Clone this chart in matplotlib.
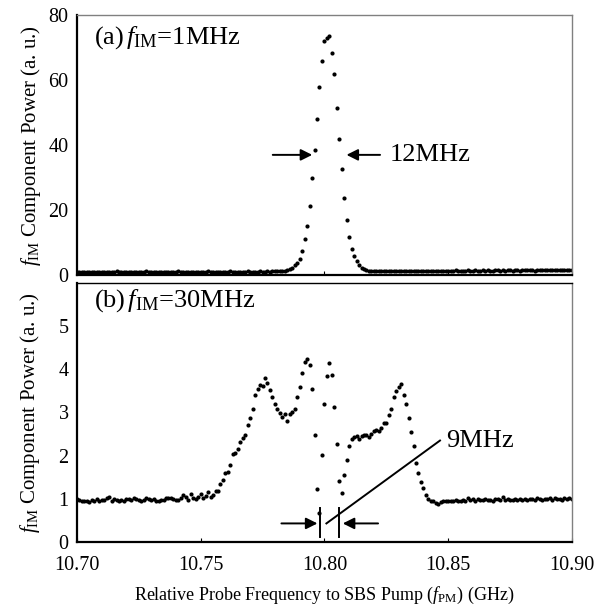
import numpy as np
import matplotlib
matplotlib.use('Agg')
import matplotlib.pyplot as plt

plt.rcParams['font.family'] = 'Liberation Serif'
plt.rcParams['mathtext.fontset'] = 'custom'
plt.rcParams['mathtext.rm'] = 'Liberation Serif'
plt.rcParams['mathtext.it'] = 'Liberation Serif:italic'

# probe frequency grid (GHz), 1 MHz steps
freq = np.round(10.700 + 0.001 * np.arange(201), 3)

# (a) f_IM = 1 MHz
power_1mhz = [
    1.0, 1.1, 0.9, 1.0, 1.1, 1.0, 0.9, 1.1, 1.0, 1.0,
    1.1, 0.9, 1.0, 1.1, 1.0, 1.0, 1.2, 1.0, 0.9, 1.0,
    1.1, 1.0, 1.0, 1.1, 0.9, 1.0, 1.1, 1.0, 1.2, 1.0,
    1.0, 1.1, 1.0, 0.9, 1.1, 1.0, 1.1, 1.0, 1.0, 1.1,
    1.0, 1.2, 1.0, 1.0, 1.1, 1.0, 1.1, 1.0, 1.1, 1.0,
    1.1, 1.0, 1.1, 1.2, 1.0, 1.1, 1.0, 1.1, 1.1, 1.0,
    1.1, 1.0, 1.2, 1.1, 1.0, 1.1, 1.1, 1.0, 1.1, 1.2,
    1.1, 1.0, 1.1, 1.1, 1.2, 1.1, 1.1, 1.2, 1.1, 1.2,
    1.2, 1.2, 1.3, 1.3, 1.4, 1.5, 1.8, 2.2, 3.0, 3.8,
    5.1, 7.4, 11.0, 15.1, 21.4, 29.8, 38.4, 48.1, 57.8, 65.8,
    72.0, 73.1, 73.6, 68.2, 61.8, 51.4, 41.9, 32.5, 23.7, 16.9,
    11.7, 7.9, 5.9, 4.4, 3.2, 2.3, 1.8, 1.5, 1.3, 1.2,
    1.2, 1.3, 1.2, 1.3, 1.2, 1.3, 1.2, 1.3, 1.3, 1.2,
    1.3, 1.2, 1.3, 1.3, 1.4, 1.3, 1.3, 1.2, 1.3, 1.4,
    1.3, 1.3, 1.4, 1.3, 1.4, 1.3, 1.3, 1.4, 1.3, 1.4,
    1.4, 1.3, 1.4, 1.5, 1.4, 1.3, 1.4, 1.4, 1.5, 1.4,
    1.4, 1.5, 1.4, 1.4, 1.5, 1.4, 1.5, 1.4, 1.4, 1.5,
    1.5, 1.4, 1.5, 1.4, 1.5, 1.5, 1.4, 1.5, 1.5, 1.4,
    1.5, 1.5, 1.6, 1.5, 1.5, 1.4, 1.5, 1.6, 1.5, 1.5,
    1.6, 1.5, 1.5, 1.6, 1.5, 1.6, 1.7, 1.5, 1.6, 1.7,
    1.6,
]

# (b) f_IM = 30 MHz
power_30mhz = [
    1.00, 0.97, 0.96, 0.96, 0.95, 0.93, 0.98, 0.96, 1.00, 0.96,
    0.97, 0.98, 1.02, 1.04, 0.96, 1.00, 0.98, 0.95, 0.98, 0.94,
    0.99, 1.00, 0.97, 1.01, 0.99, 0.97, 0.95, 0.97, 1.01, 1.00,
    0.97, 0.99, 0.96, 0.94, 0.98, 0.97, 1.03, 1.01, 1.02, 0.99,
    0.98, 0.98, 1.01, 1.08, 1.04, 0.98, 1.11, 1.02, 0.99, 1.04,
    1.11, 1.03, 1.06, 1.15, 1.05, 1.10, 1.18, 1.19, 1.34, 1.44,
    1.60, 1.61, 1.79, 2.04, 2.07, 2.15, 2.31, 2.41, 2.48, 2.71,
    2.87, 3.09, 3.41, 3.55, 3.63, 3.62, 3.80, 3.69, 3.53, 3.35,
    3.19, 3.09, 2.98, 2.90, 2.96, 2.81, 2.96, 3.02, 3.07, 3.36,
    3.58, 3.92, 4.17, 4.24, 4.11, 3.55, 2.48, 1.23, 0.66, 2.01,
    3.20, 3.84, 4.15, 3.87, 3.13, 2.28, 1.42, 1.13, 1.56, 1.91,
    2.23, 2.39, 2.43, 2.45, 2.39, 2.45, 2.47, 2.47, 2.44, 2.50,
    2.58, 2.60, 2.58, 2.65, 2.76, 2.76, 2.95, 3.08, 3.35, 3.50,
    3.58, 3.67, 3.41, 3.19, 2.88, 2.55, 2.23, 1.84, 1.60, 1.40,
    1.24, 1.09, 1.00, 0.96, 0.94, 0.91, 0.88, 0.93, 0.95, 0.94,
    0.95, 0.96, 0.94, 0.97, 0.95, 0.96, 0.98, 0.95, 1.01, 0.97,
    0.99, 0.96, 1.00, 0.98, 0.97, 1.00, 0.97, 0.98, 0.96, 0.99,
    1.00, 0.98, 1.04, 0.98, 0.99, 0.97, 0.98, 1.00, 0.97, 0.99,
    0.98, 1.00, 0.97, 0.99, 1.00, 0.98, 1.02, 0.99, 0.98, 1.00,
    0.99, 1.01, 0.98, 1.03, 0.99, 1.00, 0.97, 1.02, 0.99, 1.01,
    1.00,
]

x_ticks = [10.70, 10.75, 10.80, 10.85, 10.90]
x_ticklabels = ['10.70', '10.75', '10.80', '10.85', '10.90']

ylabel = r'$\mathit{f}_{\mathrm{IM}}$ Component Power (a. u.)'


def style_axes(ax, top_color):
    for side in ['left', 'bottom']:
        ax.spines[side].set_linewidth(1.6)
        ax.spines[side].set_color('black')
    ax.spines['top'].set_color(top_color)
    ax.spines['top'].set_linewidth(1.0)
    ax.spines['right'].set_color('#808080')
    ax.spines['right'].set_linewidth(1.0)
    ax.tick_params(axis='x', direction='in', length=3, width=0.8, labelsize=14.5, pad=10)
    ax.tick_params(axis='y', length=0, labelsize=14.5, pad=6)
    ax.set_xlim(10.70, 10.90)
    ax.set_xticks(x_ticks)


fig = plt.figure(figsize=(6.01, 6.10), dpi=100)
ax1 = fig.add_axes([0.128, 0.549, 0.8236, 0.4262])
ax2 = fig.add_axes([0.128, 0.1115, 0.8236, 0.4246])

# top panel
ax1.plot(freq, power_1mhz, 'o', color='black', markersize=3.0, markeredgewidth=0)
style_axes(ax1, '#808080')
ax1.set_ylim(0, 80)
ax1.set_yticks([0, 20, 40, 60, 80])
ax1.set_xticklabels([])
ax1.set_ylabel(ylabel, fontsize=15, labelpad=4)
ax1.text(10.707, 73, r'(a)$\,\mathit{f}_{\mathrm{IM}}$=1MHz', fontsize=19, va='center')
arrow = dict(arrowstyle='-|>', mutation_scale=17, lw=1.4, color='black')
ax1.annotate('', xy=(10.7962, 37), xytext=(10.778, 37), arrowprops=arrow)
ax1.annotate('', xy=(10.8078, 37), xytext=(10.8236, 37), arrowprops=arrow)
ax1.text(10.8262, 37, '12MHz', fontsize=19, va='center')

# bottom panel
ax2.plot(freq, power_30mhz, 'o', color='black', markersize=3.0, markeredgewidth=0)
style_axes(ax2, 'black')
ax2.set_ylim(0, 6)
ax2.set_yticks([0, 1, 2, 3, 4, 5])
ax2.set_xticklabels(x_ticklabels)
ax2.set_ylabel(ylabel, fontsize=15, labelpad=12)
ax2.set_xlabel(r'Relative Probe Frequency to SBS Pump ($\mathit{f}_{\mathrm{PM}}$) (GHz)',
               fontsize=13, labelpad=7)
ax2.text(10.707, 5.6, r'(b)$\,\mathit{f}_{\mathrm{IM}}$=30MHz', fontsize=19, va='center')
ax2.annotate('', xy=(10.7983, 0.43), xytext=(10.7815, 0.43), arrowprops=arrow)
ax2.annotate('', xy=(10.8063, 0.43), xytext=(10.8228, 0.43), arrowprops=arrow)
ax2.plot([10.7983, 10.7983], [0.12, 0.78], color='black', lw=1.4)
ax2.plot([10.8060, 10.8060], [0.12, 0.78], color='black', lw=1.4)
ax2.plot([10.8008, 10.8467], [0.43, 2.35], color='black', lw=1.4)
ax2.text(10.8492, 2.33, '9MHz', fontsize=19, va='center')

fig.savefig('out.png', dpi=100)
